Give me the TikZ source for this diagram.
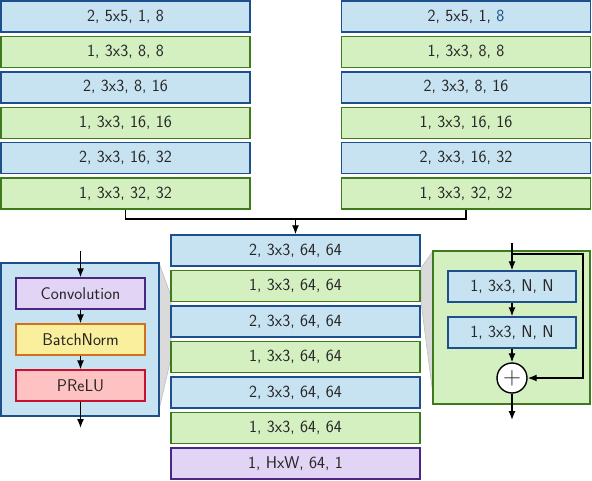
\documentclass[tikz,border=0pt]{standalone}
\usepackage{tikz}
\usetikzlibrary{arrows.meta}
\definecolor{convfill}{HTML}{C7E3F1}
\definecolor{convline}{HTML}{1D4F8C}
\definecolor{resfill}{HTML}{D4F0C1}
\definecolor{resline}{HTML}{3E7A1E}
\definecolor{fcfill}{HTML}{E1D4F5}
\definecolor{fcline}{HTML}{4A2782}
\definecolor{bnfill}{HTML}{FAEF9C}
\definecolor{bnline}{HTML}{D2711B}
\definecolor{actfill}{HTML}{FFC2C3}
\definecolor{actline}{HTML}{C8112F}
\definecolor{zoomfill}{HTML}{DADADA}

\begin{document}
\begin{tikzpicture}[x=1pt, y=-1pt, >={Latex[length=9pt,width=7pt]},
  every node/.style={font=\sffamily\fontsize{17}{20}\selectfont, text=black!85},
  layer/.style={line width=1.4pt, minimum width=249pt, minimum height=31pt, inner sep=0pt},
  conv/.style={layer, draw=convline, fill=convfill},
  res/.style={layer, draw=resline, fill=resfill},
  fc/.style={layer, draw=fcline, fill=fcfill},
  small/.style={minimum width=129pt},
  flow/.style={->, line width=1.3pt}]
  \useasboundingbox (0,0) rectangle (592,480);
  % Zoom wedges
  \fill[zoomfill, draw=black!25, line width=0.6pt] (159,263) -- (171,296) -- (171,358) -- (159,410) -- cycle;
  \fill[zoomfill, draw=black!25, line width=0.6pt] (433,251) -- (421,268) -- (421,302) -- (433,395) -- cycle;
  % Left branch
  \node[conv] (l1) at (125.5,16.5) {2, 5x5, 1, 8};
  \node[res]  (l2) at (125.5,51.9) {1, 3x3, 8, 8};
  \node[conv] (l3) at (125.5,87.3) {2, 3x3, 8, 16};
  \node[res]  (l4) at (125.5,122.7) {1, 3x3, 16, 16};
  \node[conv] (l5) at (125.5,158.1) {2, 3x3, 16, 32};
  \node[res]  (l6) at (125.5,193.5) {1, 3x3, 32, 32};
  % Right branch
  \node[conv] (r1) at (466,16.5) {2, 5x5, 1, \textcolor{convline}{8}};
  \node[res]  (r2) at (466,51.9) {1, 3x3, 8, 8};
  \node[conv] (r3) at (466,87.3) {2, 3x3, 8, 16};
  \node[res]  (r4) at (466,122.7) {1, 3x3, 16, 16};
  \node[conv] (r5) at (466,158.1) {2, 3x3, 16, 32};
  \node[res]  (r6) at (466,193.5) {1, 3x3, 32, 32};
  % Merged trunk
  \node[conv] (m1) at (295.5,250.5) {2, 3x3, 64, 64};
  \node[res]  (m2) at (295.5,286) {1, 3x3, 64, 64};
  \node[conv] (m3) at (295.5,321.5) {2, 3x3, 64, 64};
  \node[res]  (m4) at (295.5,357) {1, 3x3, 64, 64};
  \node[conv] (m5) at (295.5,392.5) {2, 3x3, 64, 64};
  \node[res]  (m6) at (295.5,428) {1, 3x3, 64, 64};
  \node[fc]   (m7) at (295.5,463.5) {1, HxW, 64, 1};
  \coordinate (join) at (295.5,219);
  \draw[line width=1.3pt] (l6.south) |- (join) -| (r6.south);
  \draw[flow] (join) -- (m1.north);
  % Conv block
  \node[draw=convline, fill=convfill, line width=1.4pt, minimum width=158pt, minimum height=153pt] (cblock) at (80,339.5) {};
  \node[layer, small, draw=fcline, fill=fcfill] (cv) at (80.5,293.5) {Convolution};
  \node[layer, small, draw=bnline, fill=bnfill] (bn) at (80.5,339.5) {BatchNorm};
  \node[layer, small, draw=actline, fill=actfill] (act) at (80.5,385.5) {PReLU};
  \coordinate (cin) at (80.5,251);
  \coordinate (cout) at (80.5,428);
  \draw[flow] (cin) -- (cv.north);
  \draw[flow] (cv) -- (bn);
  \draw[flow] (bn) -- (act);
  \draw[flow] (act.south) -- (cout);
  % Residual block
  \node[draw=resline, fill=resfill, line width=1.4pt, minimum width=157pt, minimum height=153pt] (rblock) at (511.5,327.5) {};
  \node[conv, small, minimum width=128pt] (rc1) at (512,286.5) {1, 3x3, N, N};
  \node[conv, small, minimum width=128pt] (rc2) at (512,332.5) {1, 3x3, N, N};
  \node[circle, draw=black, fill=white, line width=1.4pt, minimum size=30pt, inner sep=0pt, font=\fontsize{24}{24}\selectfont] (sum) at (512,378) {$+$};
  \coordinate (rin) at (512,243);
  \coordinate (split) at (512,254);
  \coordinate (skip) at (583,254);
  \coordinate (rout) at (512,420);
  \draw[flow] (rin) -- (rc1.north);
  \draw[flow] (split) -- (skip) |- (sum.east);
  \draw[flow] (rc1) -- (rc2);
  \draw[flow] (rc2) -- (sum);
  \draw[flow] (sum) -- (rout);
\end{tikzpicture}
\end{document}
